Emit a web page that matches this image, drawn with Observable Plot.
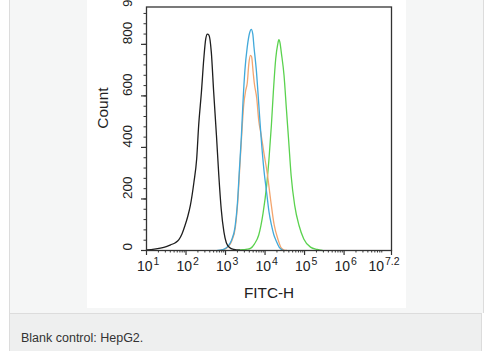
<!DOCTYPE html>
<html>
<head>
<meta charset="utf-8">
<script src="https://cdn.jsdelivr.net/npm/d3@7"></script>
<script src="https://cdn.jsdelivr.net/npm/@observablehq/plot@0.6"></script>
<style>
  html, body { margin: 0; padding: 0; background: #ffffff; font-family: "Liberation Sans", Arial, sans-serif; }
  #outer { position: absolute; left: 9px; top: 0; width: 473px; height: 313px; background: #f5f6f6; border-left: 1px solid #dcdcdc; border-right: 1px solid #dcdcdc; }
  #panel { position: absolute; left: 87px; top: 0; width: 319px; height: 308px; background: #ffffff; }
  #caption { position: absolute; left: 9px; top: 313px; width: 473px; height: 38px; background: #eeefef; border-left: 1px solid #dcdcdc; border-right: 1px solid #dcdcdc; border-top: 1px solid #dcdcdc; box-sizing: border-box; }
  #caption span { position: absolute; left: 11px; top: 17px; font-size: 12.5px; color: #333; }
  #panel svg { display: block; }
</style>
</head>
<body>
<div id="outer"></div>
<div id="panel"></div>
<div id="caption"><span>Blank control: HepG2.</span></div>
<script>
// log10(FITC-H) and counts
const blackLog = [1.0,1.2,1.35,1.5,1.61,1.73,1.82,1.90,1.97,2.04,2.11,2.20,2.27,2.32,2.39,2.45,2.50,2.54,2.58,2.64,2.70,2.77,2.83,2.89,2.96,3.02,3.10,3.21,3.36];
const blackCount = [2,5,9,15,22,30,42,65,95,130,175,265,356,485,615,744,822,840,836,770,615,447,291,162,71,30,12,4,1];

const blueLog = [2.80,2.92,3.04,3.15,3.24,3.30,3.35,3.40,3.44,3.49,3.55,3.61,3.65,3.69,3.72,3.78,3.84,3.90,3.97,4.04,4.10,4.16,4.22,4.28,4.36,4.44];
const blueCount = [0,3,13,39,91,181,311,440,570,699,790,845,858,840,790,699,570,440,315,225,150,100,62,38,12,2];

const orangeLog = [2.85,2.95,3.05,3.16,3.25,3.31,3.36,3.41,3.46,3.51,3.55,3.59,3.63,3.66,3.70,3.73,3.79,3.84,3.90,3.97,4.06,4.14,4.23,4.33,4.41,4.48,4.55];
const orangeCount = [0,3,12,38,92,190,320,450,565,621,650,725,757,752,690,647,590,505,450,380,295,198,100,42,10,2,0];

const greenLog = [3.30,3.42,3.55,3.63,3.73,3.84,3.95,4.04,4.10,4.16,4.21,4.27,4.32,4.35,4.38,4.41,4.48,4.54,4.60,4.66,4.75,4.86,4.98,5.15,5.32,5.45];
const greenCount = [0,3,5,8,25,60,145,252,356,485,615,744,800,818,805,770,680,550,421,291,175,97,45,13,4,0];

const seriesNames = ["green", "orange", "blue", "black"];
const seriesColors = ["#5ad24e", "#f3a56e", "#42a9da", "#1e1e1e"];

const xTickExps = [1, 2, 3, 4, 5, 6, 7.2];
const minorMult = [2, 3, 4, 5, 6, 7, 8, 9];
const yTicks = [0, 200, 400, 600, 800, 945];
const yMajor = [0, 200, 400, 600, 800];
const yMinorStep = 40;

const xLabel = "FITC-H";
const yLabel = "Count";

function rows(name, logs, counts) {
  return logs.map((l, i) => ({series: name, x: Math.pow(10, l), y: counts[i]}));
}
const byName = {
  green: rows("green", greenLog, greenCount),
  orange: rows("orange", orangeLog, orangeCount),
  blue: rows("blue", blueLog, blueCount),
  black: rows("black", blackLog, blackCount)
};

const majorX = xTickExps.map(e => Math.pow(10, e));
const minorX = [];
for (let d = 1; d <= 6; d++) for (const m of minorMult) {
  const v = m * Math.pow(10, d);
  if (v <= Math.pow(10, 7.2)) minorX.push(v);
}
const minorY = d3.range(0, 945, yMinorStep);

const intExps = xTickExps.filter(e => Number.isInteger(e));
const fracExps = xTickExps.filter(e => !Number.isInteger(e));

const font = "Liberation Sans, Arial, sans-serif";
const ink = "#222";

const marks = [];
seriesNames.forEach((n, i) => {
  marks.push(Plot.line(byName[n], {x: "x", y: "y", stroke: seriesColors[i], strokeWidth: 1.3, curve: "monotone-x"}));
});
marks.push(
  Plot.frame({stroke: "#333", strokeWidth: 1.3}),
  Plot.axisX({ticks: minorX, tickSize: 2.5, tickFormat: () => "", label: null, stroke: "#333"}),
  Plot.axisX({ticks: majorX, tickSize: 5, tickFormat: () => "", label: null, stroke: "#333", strokeWidth: 1.2}),
  Plot.axisY({ticks: minorY, tickSize: 2.5, tickFormat: () => "", label: null, stroke: "#333"}),
  Plot.axisY({ticks: yMajor, tickSize: 5, tickFormat: () => "", label: null, stroke: "#333", strokeWidth: 1.2}),
  // y tick labels, rotated
  Plot.text(yTicks, {y: d => d, text: d => String(d), rotate: -90, frameAnchor: "left", dx: -18.5, fontSize: 13.5, fill: ink}),
  // x tick labels "10" + superscript exponent
  Plot.text(intExps, {x: e => Math.pow(10, e), text: () => "10", frameAnchor: "bottom", textAnchor: "end", dx: 6, dy: 20, fontSize: 14, fill: ink}),
  Plot.text(intExps, {x: e => Math.pow(10, e), text: e => String(e), frameAnchor: "bottom", textAnchor: "start", dx: 7, dy: 14.5, fontSize: 10.5, fill: ink}),
  Plot.text(fracExps, {x: e => Math.pow(10, e), text: () => "10", frameAnchor: "bottom", textAnchor: "end", dx: -7.5, dy: 20, fontSize: 14, fill: ink}),
  Plot.text(fracExps, {x: e => Math.pow(10, e), text: e => String(e), frameAnchor: "bottom", textAnchor: "start", dx: -6.5, dy: 14.5, fontSize: 10.5, fill: ink}),
  Plot.text([xLabel], {text: d => d, frameAnchor: "bottom", dy: 47, fontSize: 15.3, fill: ink}),
  Plot.text([yLabel], {text: d => d, frameAnchor: "left", rotate: -90, dx: -43.5, fontSize: 15.5, fill: ink})
);

const chart = Plot.plot({
  width: 319,
  height: 308,
  marginLeft: 59,
  marginRight: 15,
  marginTop: 6.5,
  marginBottom: 58,
  style: {fontFamily: font, background: "transparent", overflow: "visible"},
  x: {type: "log", domain: [10, Math.pow(10, 7.2)], axis: null, label: null},
  y: {domain: [0, 945], axis: null, label: null},
  marks
});
document.getElementById("panel").appendChild(chart);
</script>
</body>
</html>
